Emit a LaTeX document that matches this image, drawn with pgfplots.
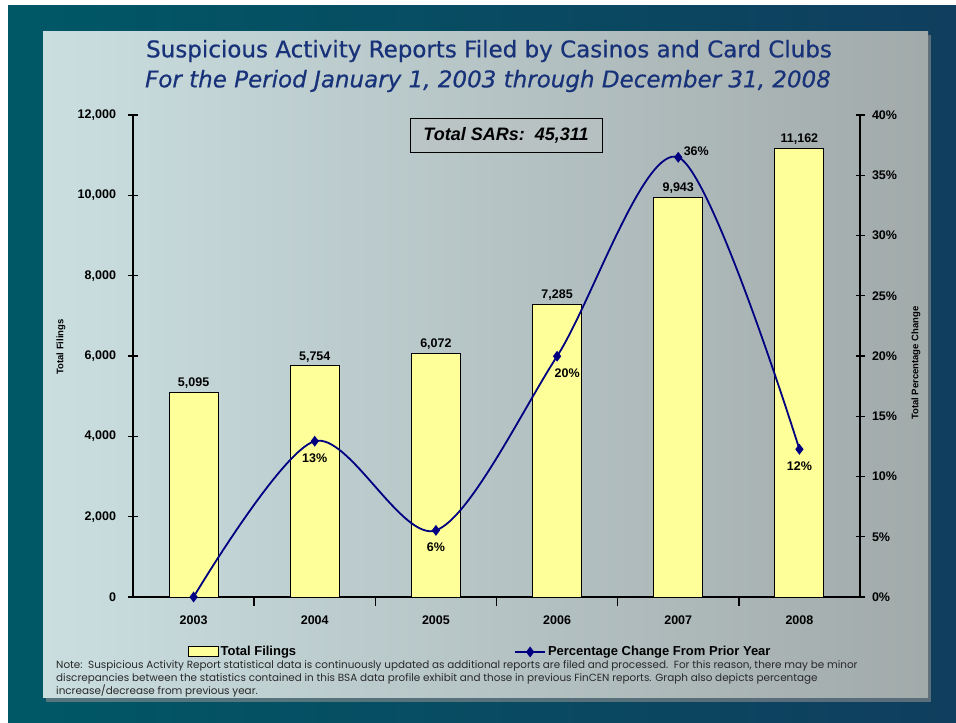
\documentclass[border=0pt]{standalone}
\usepackage{fontspec}
\setmainfont{Liberation Sans}
\newfontfamily\titlefont[FakeBold=0.6]{DejaVu Sans}
\newfontfamily\notefont{Poppins}
\usepackage{pgfplots}
\usepackage{pgfplotstable}
\pgfplotsset{compat=1.18}

\definecolor{titleblue}{RGB}{24,50,122}
\definecolor{baryellow}{RGB}{255,255,153}
\definecolor{navyline}{RGB}{0,0,128}
\definecolor{tealL}{RGB}{0,88,102}
\definecolor{tealR}{RGB}{16,62,94}
\definecolor{panelL}{RGB}{202,222,224}
\definecolor{panelR}{RGB}{162,170,170}
\definecolor{notegray}{RGB}{40,40,40}

\pgfplotsset{
  barlegend/.style={legend image code/.code={
    \draw[fill=baryellow, draw=black, line width=0.9pt] (0pt,-5pt) rectangle (30pt,5pt);}},
  linelegend/.style={legend image code/.code={
    \draw[mark repeat=2, mark phase=2, ##1] plot coordinates {(0pt,0pt) (15pt,0pt) (30pt,0pt)};}},
}

% total filings per year (x = 0 is 2003)
\pgfplotstableread{
x filings
0 5095
1 5754
2 6072
3 7285
4 9943
5 11162
}\filings

% change from prior year, in percent
\pgfplotstableread{
x pct
0 0
1 12.93
2 5.53
3 19.98
4 36.49
5 12.26
}\pct

\begin{document}
\begin{tikzpicture}
\useasboundingbox (0pt,0pt) rectangle (956pt,723pt);
\fill[white] (0pt,0pt) rectangle (956pt,723pt);
\fill[left color=tealL, right color=tealR] (8pt,0pt) rectangle (956pt,717pt);
% panel and its shadow
\fill[black!45, opacity=0.6] (46pt,21pt) rectangle (931pt,688pt);
\fill[left color=panelL, right color=panelR] (43pt,25pt) rectangle (928pt,691pt);

\node[titleblue, font=\titlefont\fontsize{23}{27}\selectfont] at (489pt,672pt)
  {Suspicious Activity Reports Filed by Casinos and Card Clubs};
\node[titleblue, font=\titlefont\fontsize{23}{27}\selectfont\itshape] at (488pt,642pt)
  {For the Period January 1, 2003 through December 31, 2008};

\begin{axis}[
  at={(133pt,126pt)}, anchor=south west,
  width=727pt, height=482pt, scale only axis,
  xmin=-0.5, xmax=5.5, ymin=0, ymax=12000,
  axis x line*=bottom, axis y line*=left,
  axis line style={-, line width=1.6pt, black},
  xtick={0,...,5}, xticklabels={2003,2004,2005,2006,2007,2008},
  xtick style={draw=none},
  extra x ticks={0.5,1.5,2.5,3.5,4.5},
  extra x tick labels={},
  extra x tick style={xtick style={draw=black}},
  ytick={0,2000,...,12000},
  scaled y ticks=false,
  tick align=center, major tick length=9pt,
  tick style={line width=1.4pt, black},
  ticklabel style={font=\fontsize{12.5}{14}\selectfont\bfseries},
  x tick label style={yshift=-6pt},
  y tick label style={xshift=-9pt},
  /pgf/number format/assume math mode=true,
  /pgf/number format/1000 sep={,},
  ylabel={Total Filings},
  every axis y label/.style={at={(axis description cs:-0.099,0.519)},
    rotate=90, anchor=center, font=\fontsize{9.5}{11}\selectfont\bfseries},
  ybar, bar width=49pt,
  nodes near coords,
  nodes near coords style={font=\fontsize{12.5}{14}\selectfont\bfseries, anchor=south},
  enlargelimits=false, clip=false,
]
\addplot[fill=baryellow, draw=black, line width=0.9pt] table[x=x, y=filings] {\filings};
\end{axis}

\begin{axis}[
  at={(133pt,126pt)}, anchor=south west,
  width=727pt, height=482pt, scale only axis,
  xmin=-0.5, xmax=5.5, ymin=0, ymax=40,
  axis y line*=right, axis x line=none,
  axis line style={-, line width=1.6pt, black},
  ytick={0,5,...,40},
  yticklabel={\pgfmathprintnumber{\tick}\%},
  tick align=center, major tick length=9pt,
  tick style={line width=1.4pt, black},
  ticklabel style={font=\fontsize{12.5}{14}\selectfont\bfseries},
  y tick label style={xshift=4pt},
  /pgf/number format/assume math mode=true,
  ylabel={Total Percentage Change},
  every axis y label/.style={at={(axis description cs:1.077,0.485)},
    rotate=90, anchor=center, font=\fontsize{9.5}{11}\selectfont\bfseries},
  enlargelimits=false, clip=false,
  legend columns=2,
  legend cell align=left,
  legend style={at={(axis description cs:0.075,-0.114)}, anchor=west,
    draw=none, fill=none, inner sep=0pt,
    font=\fontsize{13}{15}\selectfont\bfseries,
    /tikz/every even column/.append style={column sep=216pt}},
  pctlabel/.style={forget plot, only marks, mark=none,
    point meta=explicit symbolic, nodes near coords,
    nodes near coords style={font=\fontsize{12.5}{14}\selectfont\bfseries, black}},
]
\addlegendimage{barlegend}
\addlegendentry{Total Filings}
\addlegendimage{navyline, line width=1.8pt, mark=diamond*, mark size=4pt,
  mark options={fill=navyline}, linelegend}
\addlegendentry{Percentage Change From Prior Year}
\addplot[navyline, line width=1.8pt, smooth, mark=diamond*, mark size=4pt,
  mark options={fill=navyline}, forget plot] table[x=x, y=pct] {\pct};
% value labels, grouped by where they sit around the point
\addplot[pctlabel, nodes near coords style={anchor=north, yshift=-9pt}]
  coordinates {(1,12.93) [13\%] (2,5.53) [6\%] (5,12.26) [12\%]};
\addplot[pctlabel, nodes near coords style={anchor=north west, xshift=-6pt, yshift=-9pt}]
  coordinates {(3,19.98) [20\%]};
\addplot[pctlabel, nodes near coords style={anchor=west, xshift=2pt, yshift=6pt}]
  coordinates {(4,36.49) [36\%]};
\end{axis}

\node[draw=black, line width=0.8pt, fill=white!30!panelR, fill opacity=0.5,
  text opacity=1, minimum width=192pt, minimum height=34pt,
  font=\fontsize{18}{20}\selectfont\bfseries\itshape] at (506pt,588pt)
  {Total SARs:\ \ 45,311};

\node[anchor=north west, align=left, inner sep=0pt, notegray,
  font=\notefont\fontsize{10.4}{13.2}\selectfont] at (56pt,63pt)
  {Note:\ \ Suspicious Activity Report statistical data is continuously updated as additional reports are filed and processed.\ \ For this reason, there may be minor\\
  discrepancies between the statistics contained in this BSA data profile exhibit and those in previous FinCEN reports. Graph also depicts percentage\\
  increase/decrease from previous year.};
\end{tikzpicture}
\end{document}
